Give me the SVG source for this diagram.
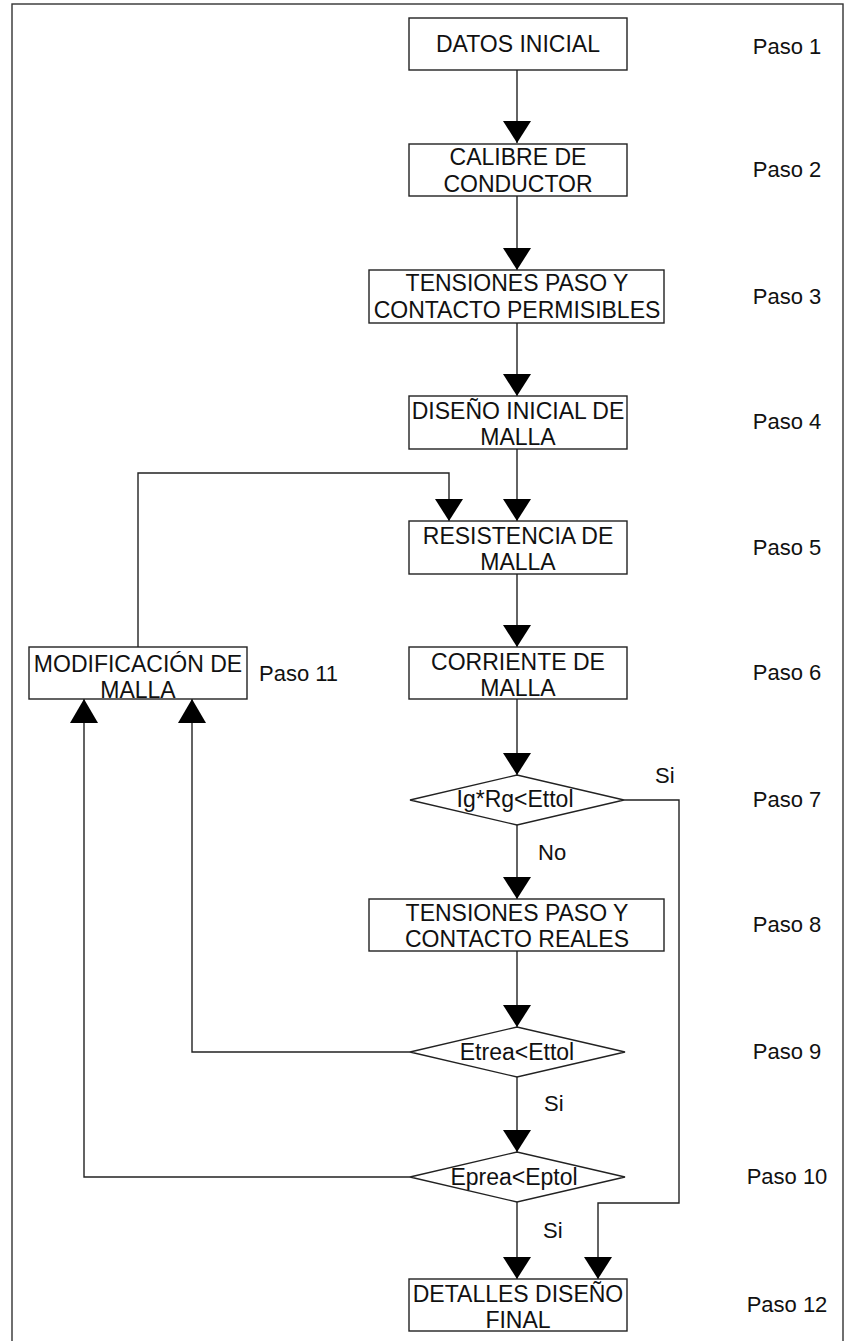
<svg xmlns="http://www.w3.org/2000/svg" width="846" height="1341" viewBox="0 0 846 1341">
<style>
.box{fill:#fff;stroke:#222;stroke-width:1.4}
.t{font-family:"Liberation Sans",Arial,sans-serif;font-size:23px;fill:#111;text-anchor:middle}
.p{font-family:"Liberation Sans",Arial,sans-serif;font-size:22px;fill:#111;text-anchor:middle}
.l{font-family:"Liberation Sans",Arial,sans-serif;font-size:22px;fill:#111}
.c{fill:none;stroke:#222;stroke-width:1.4}
</style>
<defs>
<marker id="ah" markerWidth="28" markerHeight="22" refX="14" refY="22" orient="0" markerUnits="userSpaceOnUse">
<path d="M0,0 L28,0 L14,22 Z" fill="#000"/>
</marker>
<marker id="au" markerWidth="28" markerHeight="24" refX="14" refY="0" orient="0" markerUnits="userSpaceOnUse">
<path d="M14,0 L28,24 L0,24 Z" fill="#000"/>
</marker>
</defs>
<rect x="0" y="0" width="846" height="1341" fill="#fff"/>
<rect x="12" y="4" width="831" height="1345" fill="none" stroke="#333" stroke-width="1.4"/>

<g id="connectors">
<path class="c" d="M517,70 V143" marker-end="url(#ah)"/>
<path class="c" d="M517,196 V270" marker-end="url(#ah)"/>
<path class="c" d="M517,323 V396" marker-end="url(#ah)"/>
<path class="c" d="M517,449 V521" marker-end="url(#ah)"/>
<path class="c" d="M517,574 V647" marker-end="url(#ah)"/>
<path class="c" d="M517,699 V775" marker-end="url(#ah)"/>
<path class="c" d="M517,825 V899" marker-end="url(#ah)"/>
<path class="c" d="M517,951 V1027" marker-end="url(#ah)"/>
<path class="c" d="M517,1077 V1152" marker-end="url(#ah)"/>
<path class="c" d="M517,1202 V1279" marker-end="url(#ah)"/>
<path class="c" d="M138,647 V473 H449 V521" marker-end="url(#ah)"/>
<path class="c" d="M410,1052 H192 V699" marker-end="url(#au)"/>
<path class="c" d="M410,1177 H84 V699" marker-end="url(#au)"/>
<path class="c" d="M624,800 H679 V1203 H598 V1279" marker-end="url(#ah)"/>
<text class="l" x="655" y="783">Si</text>
<text class="l" x="538" y="860">No</text>
<text class="l" x="544" y="1111">Si</text>
<text class="l" x="543" y="1238">Si</text>
</g>

<g id="n1"><rect class="box" x="409" y="18" width="218" height="52"/><text class="t" x="518" y="52">DATOS INICIAL</text></g>
<g id="n2"><rect class="box" x="409" y="144" width="218" height="52"/><text class="t" x="518" y="165">CALIBRE DE</text><text class="t" x="518" y="192">CONDUCTOR</text></g>
<g id="n3"><rect class="box" x="369" y="270" width="295" height="53"/><text class="t" x="517" y="291">TENSIONES PASO Y</text><text class="t" x="517" y="318">CONTACTO PERMISIBLES</text></g>
<g id="n4"><rect class="box" x="409" y="396" width="218" height="53"/><text class="t" x="518" y="419">DISEÑO INICIAL DE</text><text class="t" x="518" y="445">MALLA</text></g>
<g id="n5"><rect class="box" x="409" y="521" width="218" height="53"/><text class="t" x="518" y="544">RESISTENCIA DE</text><text class="t" x="518" y="570">MALLA</text></g>
<g id="n6"><rect class="box" x="409" y="647" width="218" height="52"/><text class="t" x="518" y="670">CORRIENTE DE</text><text class="t" x="518" y="696">MALLA</text></g>
<g id="n7"><path class="box" d="M410,800 L517,775 L624,800 L517,825 Z"/><text class="t" x="515" y="807">Ig*Rg&lt;Ettol</text></g>
<g id="n8"><rect class="box" x="369" y="899" width="295" height="52"/><text class="t" x="517" y="921">TENSIONES PASO Y</text><text class="t" x="517" y="947">CONTACTO REALES</text></g>
<g id="n9"><path class="box" d="M410,1052 L517,1027 L625,1052 L517,1077 Z"/><text class="t" x="517" y="1060">Etrea&lt;Ettol</text></g>
<g id="n10"><path class="box" d="M410,1177 L517,1152 L625,1177 L517,1202 Z"/><text class="t" x="514" y="1185">Eprea&lt;Eptol</text></g>
<g id="n11"><rect class="box" x="29" y="647" width="218" height="52"/><text class="t" x="138" y="672">MODIFICACIÓN DE</text><text class="t" x="138" y="698">MALLA</text></g>
<g id="n12"><rect class="box" x="409" y="1279" width="218" height="52"/><text class="t" x="518" y="1302">DETALLES DISEÑO</text><text class="t" x="518" y="1328">FINAL</text></g>

<g id="labels">
<text class="p" x="787" y="54">Paso 1</text>
<text class="p" x="787" y="177">Paso 2</text>
<text class="p" x="787" y="304">Paso 3</text>
<text class="p" x="787" y="429">Paso 4</text>
<text class="p" x="787" y="555">Paso 5</text>
<text class="p" x="787" y="680">Paso 6</text>
<text class="p" x="787" y="807">Paso 7</text>
<text class="p" x="787" y="932">Paso 8</text>
<text class="p" x="787" y="1059">Paso 9</text>
<text class="p" x="787" y="1184">Paso 10</text>
<text class="l" x="259" y="681">Paso 11</text>
<text class="p" x="787" y="1312">Paso 12</text>
</g>
</svg>
